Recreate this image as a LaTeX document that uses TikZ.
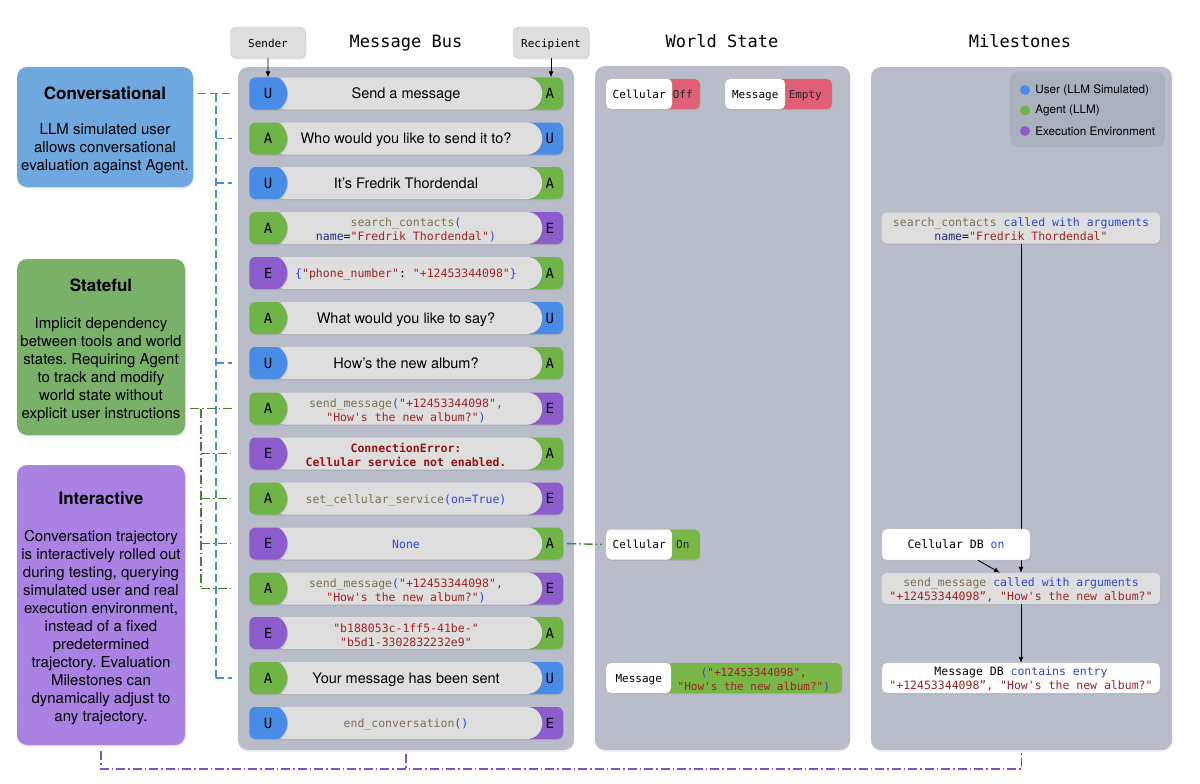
\documentclass[tikz,border=0pt]{standalone}
\usepackage{fontspec}
\setmainfont{TeX Gyre Heros}
\setmonofont{DejaVu Sans Mono}
\usepackage{xcolor}
\usepackage{tikz}
\usetikzlibrary{positioning,arrows.meta,shapes.misc,shadows}
\frenchspacing

\definecolor{usercol}{RGB}{72,140,230}
\definecolor{agentcol}{RGB}{112,180,72}
\definecolor{envcol}{RGB}{140,92,205}
\definecolor{rowgray}{RGB}{222,222,222}
\definecolor{panelgray}{RGB}{185,189,201}
\definecolor{legendgray}{RGB}{171,176,190}
\definecolor{convcol}{RGB}{111,168,222}
\definecolor{statecol}{RGB}{122,177,104}
\definecolor{intercol}{RGB}{170,130,228}
\definecolor{offred}{RGB}{226,96,118}
\definecolor{ongreen}{RGB}{120,182,70}
\definecolor{fncol}{RGB}{125,112,80}
\definecolor{pucol}{RGB}{40,70,225}
\definecolor{strcol}{RGB}{160,35,35}
\definecolor{kwcol}{RGB}{30,40,140}
\definecolor{errcol}{RGB}{150,20,20}
\definecolor{convline}{RGB}{70,140,220}
\definecolor{stateline}{RGB}{70,130,50}
\definecolor{interline}{RGB}{130,80,205}

\newcommand{\codefn}[1]{\textcolor{fncol}{#1}}
\newcommand{\codepu}[1]{\textcolor{pucol}{#1}}
\newcommand{\codestr}[1]{\textcolor{strcol}{#1}}
\newcommand{\codekw}[1]{\textcolor{kwcol}{#1}}
\newcommand{\codeerr}[1]{\textcolor{errcol}{\bfseries #1}}
\newcommand{\rowstrut}{\rule{0pt}{12.7pt}}
\newcommand{\milestrut}{\rule{0pt}{10.7pt}}
\newcommand{\feattitle}[1]{{\rule{0pt}{20pt}\bfseries\fontsize{17}{20}\selectfont #1}}
% one line of the bus: [style] name, y, sender, colour, recipient, colour, text
\newcommand{\msgrow}[8][plainmsg]{%
  \node[rcap, fill=#7] (#2-r) at (544,#3) {#6};
  \node[msg, #1] (#2) at (406,#3) {\rowstrut#8};
  \node[scap, fill=#5] (#2-s) at (268,#3) {#4};
}

\begin{document}
\begin{tikzpicture}[
  x=1pt, y=-1pt,
  shade/.style={drop shadow={opacity=0.22, shadow xshift=0.8pt, shadow yshift=-1.3pt}},
  panel/.style={fill=panelgray, rounded corners=10pt, inner sep=0pt,
                drop shadow={opacity=0.10, shadow xshift=0pt, shadow yshift=-2pt}},
  head/.style={text height=14pt, text depth=1.2pt,
               font=\ttfamily\fontsize{17}{20}\selectfont},
  tag/.style={draw=black!22, fill=rowgray, rounded corners=5pt, minimum height=31pt,
              inner sep=0pt, text height=10.5pt, text depth=0.9pt,
              font=\ttfamily\fontsize{11}{13}\selectfont, shade},
  feat/.style={rounded corners=10pt, align=center, inner sep=0pt,
               font=\fontsize{15}{18}\selectfont, shade},
  rcap/.style={rectangle, rounded corners=6pt, minimum width=38pt, minimum height=32pt,
               text width=20pt, inner xsep=9pt, inner ysep=0pt, align=right,
               font=\ttfamily\fontsize{14}{16}\selectfont, shade},
  scap/.style={rounded rectangle, rounded rectangle west arc=none, rounded corners=6pt,
               minimum width=38pt, minimum height=32pt, inner sep=0pt,
               font=\ttfamily\fontsize{14}{16}\selectfont, shade},
  msg/.style={rectangle, rounded corners=15pt, fill=rowgray, minimum width=272pt,
              minimum height=32pt, inner sep=0pt, align=center, shade},
  plainmsg/.style={text height=11.5pt, text depth=1pt, font=\fontsize{14.5}{17}\selectfont},
  codemsg/.style={font=\ttfamily\fontsize{11.5}{14}\selectfont},
  codeline/.style={font=\ttfamily\fontsize{11.5}{14}\selectfont,
                   text height=10pt, text depth=1pt},
  stkey/.style={fill=white, rounded corners=5pt, minimum height=30pt, inner sep=0pt,
                text height=9.5pt, text depth=0.9pt,
                font=\ttfamily\fontsize{11}{14}\selectfont, shade},
  stval/.style={rounded corners=5pt, minimum height=30pt, inner sep=0pt, align=center,
                text=black!85, font=\ttfamily\fontsize{11}{14}\selectfont, shade},
  stone/.style={text height=9.5pt, text depth=0.9pt},
  mile/.style={rounded corners=5pt, minimum height=31pt, inner sep=0pt, align=center,
               draw=black!15, font=\ttfamily\fontsize{11.5}{14}\selectfont, shade},
  legendbox/.style={fill=legendgray, rounded corners=8pt, minimum width=155pt,
                    minimum height=75pt},
  legdot/.style={circle, inner sep=0pt, minimum size=10pt},
  legtext/.style={inner sep=0pt, font=\fontsize{11.7}{14}\selectfont},
  arr/.style={-{Latex[length=6pt, width=5pt]}, line width=0.9pt},
  convlink/.style={convline, line width=1.4pt, dash pattern=on 8pt off 4pt},
  statelink/.style={stateline, line width=1.4pt, dash pattern=on 9pt off 3pt on 1.5pt off 3pt},
  interlink/.style={interline, line width=1.5pt, dash pattern=on 9pt off 3pt on 1.5pt off 3pt}
]
\useasboundingbox (0,0) rectangle (1200,784);

% panels
\node[panel, minimum width=336pt, minimum height=683pt] (bus) at (406,408.5) {};
\node[panel, minimum width=255pt, minimum height=684pt] (world) at (722.5,408) {};
\node[panel, minimum width=301pt, minimum height=683pt] (miles) at (1021.5,408.5) {};
\node[head] (bushead) at (406,41) {Message Bus};
\node[head] (worldhead) at (722,41) {World State};
\node[head] (mileshead) at (1020,41) {Milestones};
\node[tag, minimum width=75pt] (sender) at (268,42.5) {Sender};
\node[tag, minimum width=76pt] (recip) at (551,42.5) {Recipient};

% feature boxes
\node[feat, fill=convcol, minimum width=176pt, minimum height=120pt] (conv) at (105,127)
  {\feattitle{Conversational}\\[17pt]
   LLM simulated user\\ allows conversational\\ evaluation against Agent.};
\node[feat, fill=statecol, minimum width=168pt, minimum height=176pt] (state) at (101,347)
  {\feattitle{Stateful}\\[19pt]
   Implicit dependency\\ between tools and world\\ states. Requiring Agent\\
   to track and modify\\ world state without\\ explicit user instructions};
\node[feat, fill=intercol, minimum width=168pt, minimum height=280pt] (inter) at (101,605)
  {\feattitle{Interactive}\\[19pt]
   Conversation trajectory\\ is interactively rolled out\\ during testing, querying\\
   simulated user and real\\ execution environment,\\ instead of a fixed\\
   predetermined\\ trajectory. Evaluation\\ Milestones can\\
   dynamically adjust to\\ any trajectory.};

% message bus
\msgrow{r1}{93.5}{U}{usercol}{A}{agentcol}{Send a message}
\msgrow{r2}{138.5}{A}{agentcol}{U}{usercol}{Who would you like to send it to?}
\msgrow{r3}{183}{U}{usercol}{A}{agentcol}{It’s Fredrik Thordendal}
\msgrow[codemsg]{r4}{228}{A}{agentcol}{E}{envcol}
  {\codefn{search\_contacts}\codepu{(}\\ \codekw{name}=\codestr{"Fredrik Thordendal"}\codepu{)}}
\msgrow[codeline]{r5}{273}{E}{envcol}{A}{agentcol}
  {\codepu{\{}\codestr{"phone\_number"}: \codestr{"+12453344098"}\codepu{\}}}
\msgrow{r6}{318}{A}{agentcol}{U}{usercol}{What would you like to say?}
\msgrow{r7}{363}{U}{usercol}{A}{agentcol}{How’s the new album?}
\msgrow[codemsg]{r8}{408.5}{A}{agentcol}{E}{envcol}
  {\codefn{send\_message}\codepu{(}\codestr{"+12453344098",}\\ \codestr{"How's the new album?"}\codepu{)}}
\msgrow[codemsg]{r9}{453.5}{E}{envcol}{A}{agentcol}
  {\codeerr{ConnectionError:}\\ \codeerr{Cellular service not enabled.}}
\msgrow[codeline]{r10}{498.5}{A}{agentcol}{E}{envcol}
  {\codefn{set\_cellular\_service}\codepu{(on=True)}}
\msgrow[codeline]{r11}{543.5}{E}{envcol}{A}{agentcol}{\codepu{None}}
\msgrow[codemsg]{r12}{588.5}{A}{agentcol}{E}{envcol}
  {\codefn{send\_message}\codepu{(}\codestr{"+12453344098",}\\ \codestr{"How's the new album?"}\codepu{)}}
\msgrow[codemsg]{r13}{633}{E}{envcol}{A}{agentcol}
  {\codestr{"b188053c-1ff5-41be-"}\\ \codestr{"b5d1-3302832232e9"}}
\msgrow{r14}{678}{A}{agentcol}{U}{usercol}{Your message has been sent}
\msgrow[codeline]{r15}{723}{U}{usercol}{E}{envcol}{\codefn{end\_conversation}\codepu{()}}

\draw[arr] (sender) -- (r1-s);
\draw[arr] (recip.south) -- (recip.south |- r1-r.north);

% world state
\node[stval, stone, fill=offred, minimum width=34pt, anchor=east] (cellv1) at (700,94) {Off};
\node[stkey, minimum width=66pt, anchor=west] (cellk1) at (606,94) {Cellular};
\node[stval, stone, fill=offred, minimum width=53pt, anchor=east] (msgv1) at (832,94) {Empty};
\node[stkey, minimum width=60pt, anchor=west] (msgk1) at (725,94) {Message};
\node[stval, stone, fill=ongreen, minimum width=34pt, anchor=east] (cellv2) at (700,544.5) {On};
\node[stkey, minimum width=66pt, anchor=west] (cellk2) at (606,544.5) {Cellular};
\node[stval, fill=ongreen, minimum width=176pt, anchor=east] (msgv2) at (842,678)
  {\rowstrut\codepu{(}\codestr{"+12453344098",}\\ \codestr{"How's the new album?"}\codepu{)}};
\node[stkey, minimum width=65pt, anchor=west] (msgk2) at (606,678) {Message};

% milestones
\node[legendbox] (legend) at (1087.5,109.5) {};
\node[legdot, fill=usercol] (ldotu) at (1025,90) {};
\node[legtext, right=5pt of ldotu] (ltextu) {User (LLM Simulated)};
\node[legdot, fill=agentcol] (ldota) at (1025,110.5) {};
\node[legtext, right=5pt of ldota] (ltexta) {Agent (LLM)};
\node[legdot, fill=envcol] (ldote) at (1025,131) {};
\node[legtext, right=5pt of ldote] (ltexte) {Execution Environment};

\node[mile, fill=rowgray, minimum width=278pt] (m1) at (1021,228)
  {\milestrut\codefn{search\_contacts} \codepu{called with arguments}\\
   \codekw{name}=\codestr{"Fredrik Thordendal"}};
\node[mile, fill=rowgray, minimum width=278pt] (m3) at (1021,588.5)
  {\milestrut\codefn{send\_message} \codepu{called with arguments}\\
   \codestr{"+12453344098”, "How's the new album?"}};
\node[mile, fill=white, minimum width=278pt, minimum height=30pt] (m4) at (1021,678)
  {\milestrut Message DB \codepu{contains entry}\\
   \codestr{"+12453344098”, "How's the new album?"}};
\draw[arr] (m1) -- (m3);
\draw[arr] (m3) -- (m4);
\node[mile, fill=white, minimum width=148pt] (m2) at (956,544.5) {Cellular DB \codepu{on}};
\draw[arr] ([xshift=22pt]m2.south) -- ([xshift=-21pt]m3.north);

% conversational links
\coordinate (convbus) at (216,0);
\draw[convlink, shorten <=5pt] (conv.east |- r1-s) -- ([xshift=-17pt]r1-s.west);
\draw[convlink] (convbus |- r1-s) -- (convbus |- r14-s);
\draw[convlink] (convbus |- r2-s) -- ([xshift=-17pt]r2-s.west);
\draw[convlink] (convbus |- r3-s) -- ([xshift=-17pt]r3-s.west);
\draw[convlink] (convbus |- r7-s) -- ([xshift=-17pt]r7-s.west);
\draw[convlink] (convbus |- r14-s) -- ([xshift=-17pt]r14-s.west);

% stateful links
\coordinate (statebus) at (201,0);
\draw[statelink, shorten <=5pt] (state.east |- r8-s) -- ([xshift=-17pt]r8-s.west);
\draw[statelink] (statebus |- r8-s) -- (statebus |- r12-s);
\draw[statelink] (statebus |- r9-s) -- ([xshift=-17pt]r9-s.west);
\draw[statelink] (statebus |- r10-s) -- ([xshift=-17pt]r10-s.west);
\draw[statelink] (statebus |- r11-s) -- ([xshift=-17pt]r11-s.west);
\draw[statelink] (statebus |- r12-s) -- ([xshift=-17pt]r12-s.west);
\draw[statelink, shorten <=4pt, shorten >=4pt] (r11-r.east) -- (cellk2.west);

% interactive link
\coordinate (interrun) at (0,769);
\draw[interlink] ([yshift=-6pt]inter.south) -- (inter.south |- interrun)
  -| ([yshift=-3pt]miles.south);
\draw[interlink] ([yshift=-4pt]bus.south) -- (bus.south |- interrun);
\end{tikzpicture}
\end{document}
